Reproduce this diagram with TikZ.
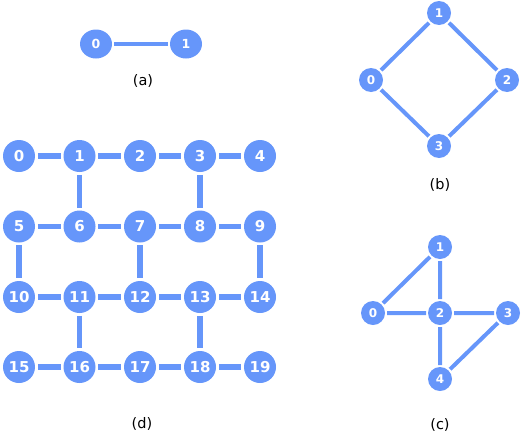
\documentclass[tikz,border=0pt]{standalone}
\usepackage{fontspec}
\setmainfont{DejaVu Sans}
\usetikzlibrary{shapes.geometric}
\definecolor{nodeblue}{RGB}{102,150,250}
\begin{document}
\begin{tikzpicture}[x=1pt,y=-1pt,
  nd/.style={circle,fill=nodeblue,inner sep=0pt,text=white,font=\bfseries},
  ndd/.style={nd,minimum size=32pt,font=\fontsize{15}{15}\selectfont\bfseries},
  nda/.style={nd,ellipse,minimum width=32pt,minimum height=29pt,font=\fontsize{12.5}{12.5}\selectfont\bfseries},
  ndb/.style={nd,minimum size=24pt,font=\fontsize{12}{12}\selectfont\bfseries},
  ed/.style={draw=nodeblue},
  captxt/.style={font=\fontsize{14.5}{14.5}\selectfont,text=black}]
\useasboundingbox (0,0) rectangle (524,434);
% (a)
\begin{scope}[line width=4pt]
\node[nda] (a0) at (96,44) {0};
\node[nda] (a1) at (186,44) {1};
\draw[ed] (a0) -- (a1);
\end{scope}
\node[captxt] (la) at (143,81) {(a)};
% (b)
\begin{scope}[line width=4pt]
\node[ndb] (b1) at (439,13) {1};
\node[ndb] (b0) at (371,80) {0};
\node[ndb] (b2) at (507,80) {2};
\node[ndb] (b3) at (439,146) {3};
\draw[ed] (b0) -- (b1) (b1) -- (b2) (b2) -- (b3) (b3) -- (b0);
\end{scope}
\node[captxt] (lb) at (440,185) {(b)};
% (c)
\begin{scope}[line width=4pt]
\node[ndb] (c1) at (440,247) {1};
\node[ndb] (c0) at (373,313) {0};
\node[ndb] (c2) at (440,313) {2};
\node[ndb] (c3) at (508,313) {3};
\node[ndb] (c4) at (440,379) {4};
\draw[ed] (c0) -- (c1) (c1) -- (c2) (c0) -- (c2) (c2) -- (c3) (c2) -- (c4) (c3) -- (c4);
\end{scope}
\node[captxt] (lc) at (440,425) {(c)};
% (d)
\begin{scope}[line width=5.5pt]
\foreach \r/\y in {0/156,1/226.5,2/297,3/367}{
  \foreach \c/\x in {0/19,1/79.5,2/140,3/200,4/260}{
    \pgfmathtruncatemacro{\idx}{\r*5+\c}
    \node[ndd] (d\idx) at (\x,\y) {\idx};
  }
}
\foreach \u/\v in {0/1,1/2,2/3,3/4,1/6,3/8,5/6,6/7,7/8,8/9,5/10,7/12,9/14,10/11,11/12,12/13,13/14,11/16,13/18,15/16,16/17,17/18,18/19}{
  \draw[ed] (d\u) -- (d\v);
}
\end{scope}
\node[captxt] (ld) at (142,424) {(d)};
\end{tikzpicture}
\end{document}
